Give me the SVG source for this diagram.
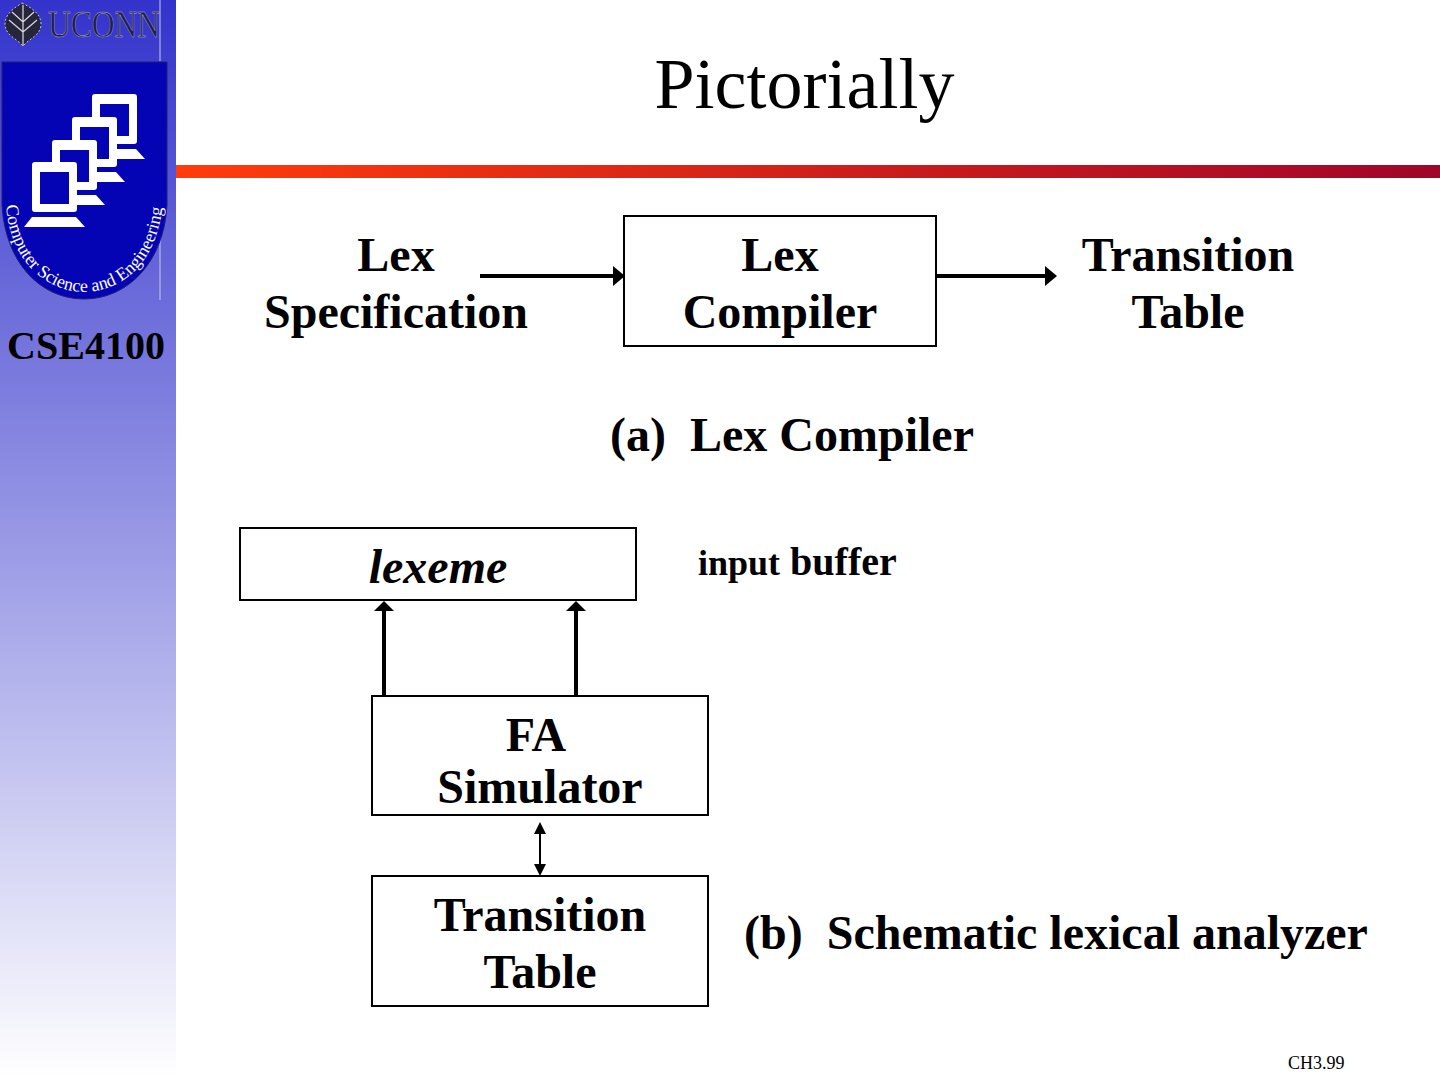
<svg xmlns="http://www.w3.org/2000/svg" width="1440" height="1080" viewBox="0 0 1440 1080">
<style>
text{font-family:"Liberation Serif","Times New Roman",serif;fill:#000}
.b{font-size:48px;font-weight:bold;text-anchor:middle}
.box{fill:#fff;stroke:#000;stroke-width:2}
.c{fill:none;stroke:#000;stroke-width:4}
</style>
<defs>
<linearGradient id="side" x1="0" y1="0" x2="0" y2="1"><stop offset="0" stop-color="#3333cc"/><stop offset="1" stop-color="#ffffff"/></linearGradient>
<linearGradient id="bar" x1="0" y1="0" x2="1" y2="0"><stop offset="0" stop-color="#ff3c0c"/><stop offset="1" stop-color="#a00528"/></linearGradient>
<path id="arc" d="M6 205C10 262 46 291 84 292C124 291 158 262 163 201"/>
<g id="pc"><path d="M8 55H52L61 65H0Z" fill="#fff"/><rect x="8" y="0" width="45" height="50" rx="3" fill="#fff"/><rect x="16" y="10" width="29" height="32" fill="#0404b4"/></g>
</defs>
<rect width="176" height="1080" fill="url(#side)"/>
<rect x="176" y="165" width="1264" height="13" fill="url(#bar)"/>
<g id="logo">
<path d="M22 3C32 8 41 14 41 24C41 35 30 38 23 46C16 38 5 35 5 24C5 14 14 8 22 3Z" fill="#25253c" stroke="#c8c8c8" stroke-width="1" stroke-dasharray="2 2"/>
<path d="M23 5V46M9 20L23 32L37 20M12 12L23 22L34 12" stroke="#ddd" stroke-width="1.2" fill="none"/>
<text x="48" y="37" font-size="37" textLength="112" lengthAdjust="spacingAndGlyphs" style="fill:#20204a;stroke:#b8b8c8;stroke-width:.4">UCONN</text>
<path d="M160 0V61M160 200V300" stroke="#c8c8e8" stroke-width="1" fill="none"/>
<path d="M2 62H167V205C164 262 128 299 84 299C40 299 5 262 2 205Z" fill="#0404b4" stroke="#20206a" stroke-width="1"/>
<use href="#pc" x="84" y="94"/><use href="#pc" x="64" y="117"/><use href="#pc" x="44" y="140"/><use href="#pc" x="24" y="162"/>
<text font-size="18" style="fill:#fff"><textPath href="#arc">Computer Science and Engineering</textPath></text>
</g>
<text x="86" y="359" font-size="40" font-weight="bold" text-anchor="middle">CSE4100</text>
<text x="804.5" y="108" font-size="72" text-anchor="middle">Pictorially</text>
<g id="connectors">
<path class="c" d="M480 276H614"/><path d="M613 266L625 276L613 286Z"/>
<path class="c" d="M937 276H1046"/><path d="M1045 266L1057 276L1045 286Z"/>
<path class="c" d="M384 696V610"/><path d="M374 611L384 601L394 611Z"/>
<path class="c" d="M576 696V610"/><path d="M566 611L576 601L586 611Z"/>
<path d="M540 832V866" fill="none" stroke="#000" stroke-width="2"/><path d="M534 834L540 822L546 834Z"/><path d="M534 864L540 876L546 864Z"/>
</g>
<g id="lex-spec"><text class="b" x="396" y="271">Lex</text><text class="b" x="396" y="328">Specification</text></g>
<g id="lex-compiler"><rect class="box" x="624" y="216" width="312" height="130"/><text class="b" x="780" y="271">Lex</text><text class="b" x="780" y="328">Compiler</text></g>
<g id="transition-a"><text class="b" x="1188" y="271">Transition</text><text class="b" x="1188" y="328">Table</text></g>
<text class="b" x="792" y="451" xml:space="preserve">(a)  Lex Compiler</text>
<g id="lexeme"><rect class="box" x="240" y="528" width="396" height="72"/><text class="b" x="438" y="583" font-style="italic">lexeme</text></g>
<text x="698" y="575" font-size="36" font-weight="bold">input <tspan font-size="40" dx="1">buffer</tspan></text>
<g id="fa"><rect class="box" x="372" y="696" width="336" height="119"/><text class="b" x="536" y="751">FA</text><text class="b" x="540" y="803">Simulator</text></g>
<g id="transition-b"><rect class="box" x="372" y="876" width="336" height="130"/><text class="b" x="540" y="931">Transition</text><text class="b" x="540" y="988">Table</text></g>
<text class="b" x="1056" y="949" xml:space="preserve">(b)  Schematic lexical analyzer</text>
<text x="1288" y="1069" font-size="18">CH3.99</text>
</svg>
